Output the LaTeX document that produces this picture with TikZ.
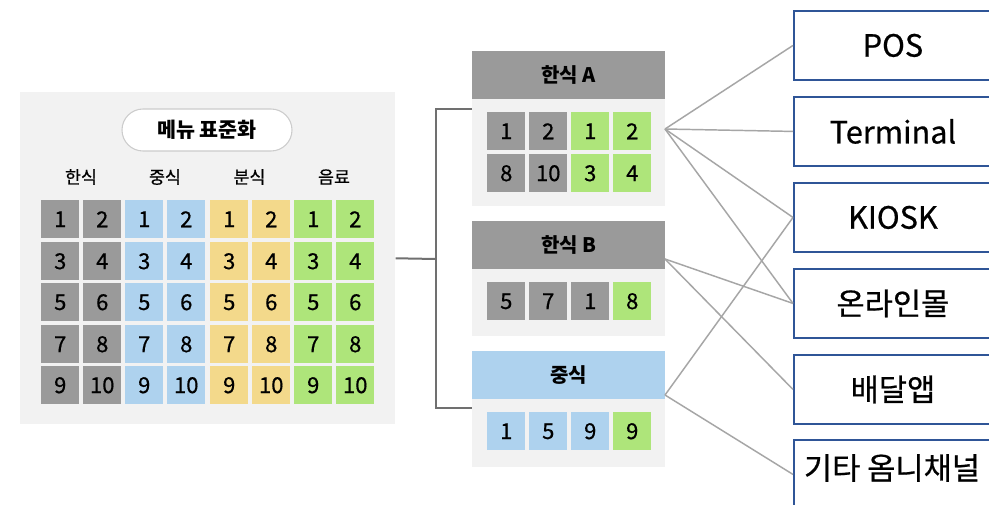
\documentclass[tikz,border=0pt]{standalone}
\usepackage{fontspec}
\setmainfont{Noto Sans CJK KR}
\newfontfamily\medfont[FakeBold=0.6]{Noto Sans CJK KR}
\definecolor{cgray}{HTML}{9A9A9A}
\definecolor{cblue}{HTML}{AED2EE}
\definecolor{cyel}{HTML}{F3D98B}
\definecolor{cgreen}{HTML}{AEE57A}
\definecolor{panelbg}{HTML}{F2F2F2}
\definecolor{chblue}{HTML}{2F5597}
\definecolor{linegray}{HTML}{A6A6A6}
\definecolor{brk}{HTML}{707070}
\definecolor{pillborder}{HTML}{CCCCCC}
\begin{document}
\begin{tikzpicture}[x=0.75pt,y=-0.75pt,
  cell/.style={anchor=north west,minimum width=28.5pt,minimum height=28.5pt,inner sep=0pt,
    font=\medfont\fontsize{16.5}{16.5}\selectfont},
  grphead/.style={anchor=north west,minimum width=144.75pt,minimum height=36pt,inner sep=0pt,
    font=\fontsize{15}{15}\selectfont\bfseries},
  grpbody/.style={anchor=north west,minimum width=144.75pt,inner sep=0pt,fill=panelbg},
  colhead/.style={font=\medfont\fontsize{13}{13}\selectfont},
  channel/.style={anchor=north west,draw=chblue,line width=1.4pt,fill=white,
    minimum width=148.5pt,minimum height=51.75pt,inner sep=0pt},
  chtext/.style={font=\medfont\fontsize{23}{23}\selectfont},
  link/.style={draw=linegray,line width=1.1pt},
  bracket/.style={draw=brk,line width=1.5pt}]
\useasboundingbox (0,0) rectangle (989,504);
\fill[white] (0,0) rectangle (989,504);

% ---------- left panel ----------
\node[anchor=north west,fill=panelbg,minimum width=281.25pt,minimum height=249pt,inner sep=0pt]
  (panel) at (20,92) {};
\node[draw=pillborder,line width=0.8pt,fill=white,rounded corners=15.75pt,
  minimum width=127.5pt,minimum height=31.5pt,inner sep=0pt,
  font=\fontsize{15.5}{15.5}\selectfont\bfseries] (pill) at (207,130) {메뉴 표준화};

\node[colhead] (h1) at (81,177) {한식};
\node[colhead] (h2) at (165,177) {중식};
\node[colhead] (h3) at (249.5,177) {분식};
\node[colhead] (h4) at (334,177) {음료};

\foreach \gx/\col [count=\g] in {41/cgray,125/cblue,210/cyel,294/cgreen}{
  \foreach \ry [count=\r] in {200,242,283,325,366}{
    \pgfmathtruncatemacro{\na}{2*\r-1}
    \pgfmathtruncatemacro{\nb}{2*\r}
    \node[cell,fill=\col] (L-\g-\r-a) at (\gx,\ry) {\na};
    \node[cell,fill=\col] (L-\g-\r-b) at (\gx+42,\ry) {\nb};
  }
}

% ---------- groups ----------
\node[grphead,fill=cgray] (Ahead) at (472,51) {한식 A};
\node[grpbody,minimum height=80.25pt] (Abody) at (472,99) {};
\node[grphead,fill=cgray] (Bhead) at (472,221) {한식 B};
\node[grpbody,minimum height=50.25pt] (Bbody) at (472,269) {};
\node[grphead,fill=cblue] (Chead) at (472,351) {중식};
\node[grpbody,minimum height=51pt] (Cbody) at (472,399) {};

\node[cell,fill=cgray]  (A1) at (487,112) {1};
\node[cell,fill=cgray]  (A2) at (529,112) {2};
\node[cell,fill=cgreen] (A3) at (571,112) {1};
\node[cell,fill=cgreen] (A4) at (613,112) {2};
\node[cell,fill=cgray]  (A5) at (487,154) {8};
\node[cell,fill=cgray]  (A6) at (529,154) {10};
\node[cell,fill=cgreen] (A7) at (571,154) {3};
\node[cell,fill=cgreen] (A8) at (613,154) {4};

\node[cell,fill=cgray]  (B1) at (487,282) {5};
\node[cell,fill=cgray]  (B2) at (529,282) {7};
\node[cell,fill=cgray]  (B3) at (571,282) {1};
\node[cell,fill=cgreen] (B4) at (613,282) {8};

\node[cell,fill=cblue]  (C1) at (487,412) {1};
\node[cell,fill=cblue]  (C2) at (529,412) {5};
\node[cell,fill=cblue]  (C3) at (571,412) {9};
\node[cell,fill=cgreen] (C4) at (613,412) {9};

% ---------- bracket ----------
\coordinate (bj) at (436,259);
\coordinate (btop) at (436,109);
\coordinate (bbot) at (436,408);
\coordinate (Ain) at (472,109);
\coordinate (Cin) at (472,408);
\draw[bracket] (panel.east) -- (bj);
\draw[bracket] (Ain) -- (btop) -- (bbot) -- (Cin);

% ---------- channels ----------
\node[channel] (pos)  at (793,10)  {};
\node[channel] (term) at (793,96)  {};
\node[channel] (kio)  at (793,182) {};
\node[channel] (onl)  at (793,268) {};
\node[channel] (del)  at (793,354) {};
\node[channel] (etc)  at (793,439) {};
\node[chtext] (tpos)  at (pos.center)  {POS};
\node[chtext] (tterm) at (term.center) {Terminal};
\node[chtext] (tkio)  at (kio.center)  {KIOSK};
\node[chtext] (tonl)  at (onl.center)  {온라인몰};
\node[chtext] (tdel)  at (del.center)  {배달앱};
\node[chtext] (tetc)  at (892,468) {기타 옴니채널};

% ---------- links ----------
\coordinate (pa) at (665,129);
\coordinate (pb) at (665,259);
\coordinate (pc) at (665,395);
\draw[link] (pa) -- (pos.west);
\draw[link] (pa) -- (term.west);
\draw[link] (pa) -- (kio.west);
\draw[link] (pa) -- (onl.west);
\draw[link] (pb) -- (onl.west);
\draw[link] (pb) -- (del.west);
\draw[link] (pc) -- (kio.west);
\draw[link] (pc) -- (etc.west);
\end{tikzpicture}
\end{document}
